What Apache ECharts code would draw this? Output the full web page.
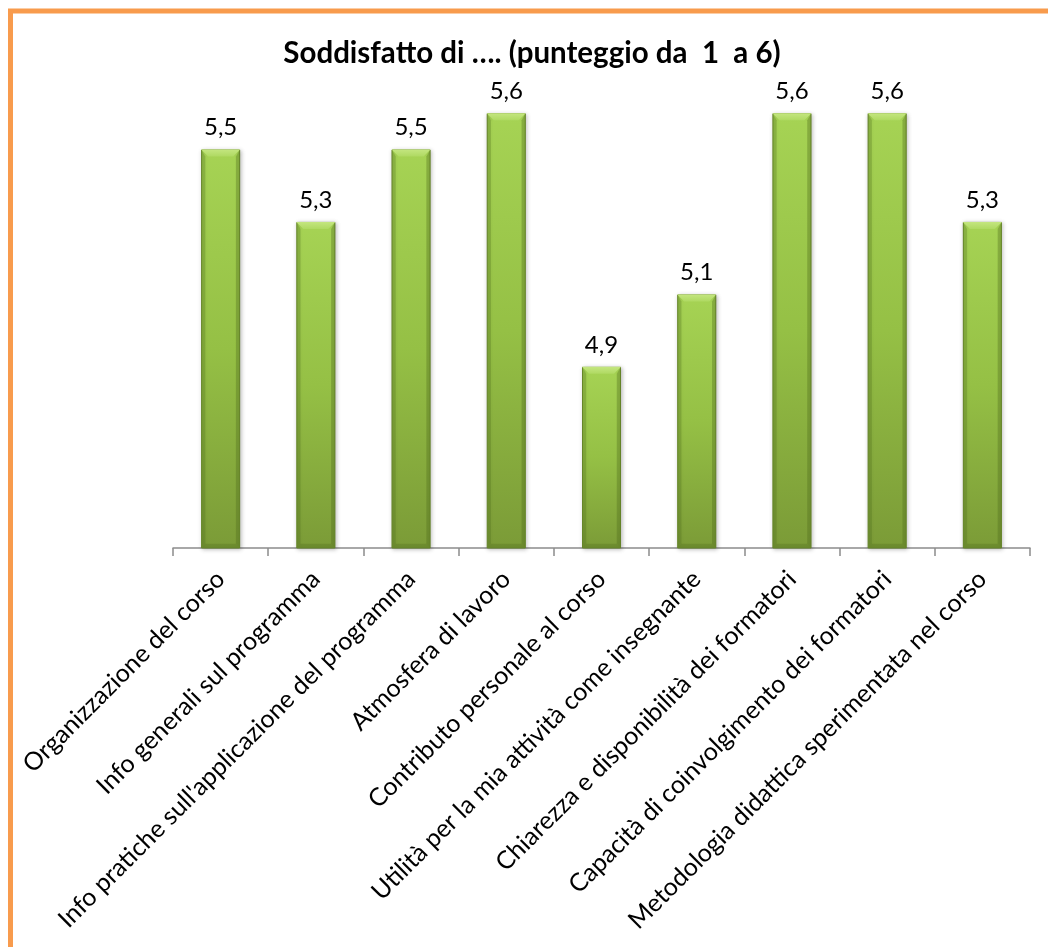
<!DOCTYPE html>
<html>
<head>
<meta charset="utf-8">
<script src="https://cdn.jsdelivr.net/npm/echarts@6/dist/echarts.min.js"></script>
<style>
html,body{margin:0;padding:0;background:#fff;}
#chart{width:1048px;height:947px;}
</style>
</head>
<body>
<div id="chart"></div>
<script>
const titleText = 'Soddisfatto di …. (punteggio da  1  a 6)';
const categories = [
  'Organizzazione del corso',
  'Info generali sul programma',
  "Info pratiche sull'applicazione del programma",
  'Atmosfera di lavoro',
  'Contributo personale al corso',
  'Utilità per la mia attività come insegnante',
  'Chiarezza e disponibilità dei formatori',
  'Capacità di coinvolgimento dei formatori',
  'Metodologia didattica sperimentata nel corso'
];
const values = [5.5, 5.3, 5.5, 5.6, 4.9, 5.1, 5.6, 5.6, 5.3];

const FONT = 'Lato, "Liberation Sans", sans-serif';
const chart = echarts.init(document.getElementById('chart'));

chart.setOption({
  backgroundColor: '#ffffff',
  animation: false,
  graphic: [{
    type: 'rect',
    shape: {x: 10.5, y: 11, width: 1200, height: 1200},
    style: {fill: 'none', stroke: '#f89b4d', lineWidth: 5},
    z: 100
  }],
  title: {
    text: titleText,
    left: 527, top: 33,
    textAlign: 'center',
    textStyle: {fontFamily: FONT, fontWeight: 'bold', fontSize: 29.5, color: '#000'}
  },
  grid: {left: 173, right: 18, top: 77, bottom: 399, containLabel: false},
  xAxis: {
    type: 'category',
    data: categories,
    axisLine: {lineStyle: {color: '#8c8c8c', width: 1.5}},
    axisTick: {show: true, length: 8, alignWithLabel: false, lineStyle: {color: '#8c8c8c', width: 1.5}},
    axisLabel: {rotate: 45, interval: 0, margin: 27, fontFamily: FONT, fontSize: 25, color: '#000'}
  },
  yAxis: {
    type: 'value', min: 4.4, max: 5.7,
    show: false, splitLine: {show: false}
  },
  series: [{
    type: 'bar',
    data: values,
    barWidth: 39,
    itemStyle: {
      color: new echarts.graphic.LinearGradient(0, 0, 0, 1, [
        {offset: 0, color: '#a6d354'},
        {offset: 0.5, color: '#95c045'},
        {offset: 1, color: '#7b9b37'}
      ]),
      borderColor: '#6f8f2e', borderWidth: 1,
      shadowColor: 'rgba(0,0,0,0.25)', shadowBlur: 4, shadowOffsetX: 1, shadowOffsetY: 1
    },
    label: {
      show: true, position: 'top', distance: 10,
      fontFamily: FONT, fontSize: 24, color: '#000',
      formatter: p => String(p.value).replace('.', ',')
    }
  }, {
    type: 'custom',
    data: values,
    silent: true,
    z: 3,
    renderItem: function (params, api) {
      const top = api.coord([api.value(0), api.value(1)]);
      const base = api.coord([api.value(0), 4.4]);
      const w = 39, x0 = top[0] - w / 2, x1 = top[0] + w / 2, y0 = top[1], yb = base[1];
      const b = 7;
      return {
        type: 'group',
        children: [
          {type: 'polygon', shape: {points: [[x0, y0], [x1, y0], [x1 - b, y0 + b], [x0 + b, y0 + b]]},
           style: {fill: new echarts.graphic.LinearGradient(0, 0, 0, 1, [{offset: 0, color: '#c4e680'}, {offset: 1, color: '#afd962'}])}},
          {type: 'polygon', shape: {points: [[x0, y0], [x0 + b * 0.6, y0 + b], [x0 + b * 0.6, yb - b * 0.6], [x0, yb]]},
           style: {fill: 'rgba(80,110,30,0.28)'}},
          {type: 'polygon', shape: {points: [[x1, y0], [x1 - b * 0.6, y0 + b], [x1 - b * 0.6, yb - b * 0.6], [x1, yb]]},
           style: {fill: 'rgba(80,110,30,0.35)'}},
          {type: 'polygon', shape: {points: [[x0, yb], [x1, yb], [x1 - b * 0.6, yb - b * 0.6], [x0 + b * 0.6, yb - b * 0.6]]},
           style: {fill: 'rgba(80,110,30,0.3)'}}
        ]
      };
    }
  }]
});
</script>
</body>
</html>
